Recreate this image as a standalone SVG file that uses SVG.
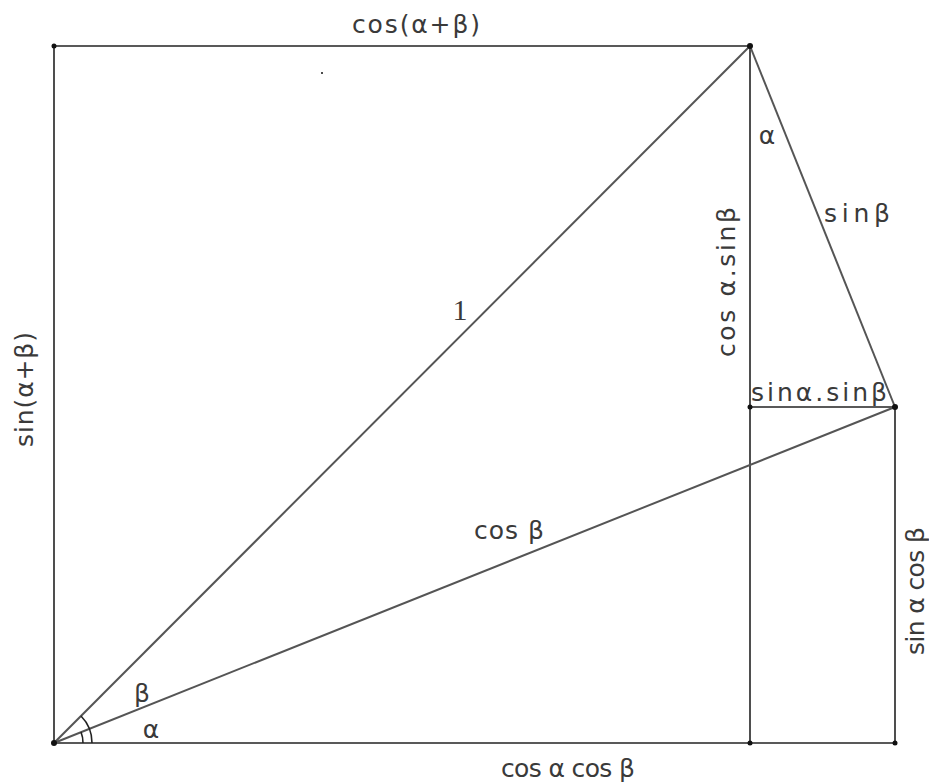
<svg xmlns="http://www.w3.org/2000/svg" width="929" height="784" viewBox="0 0 929 784">
<style>
.ln{stroke:#222;stroke-width:1.6;fill:none}
.dg{stroke:#555;stroke-width:2;fill:none}
.t{font-family:"DejaVu Sans","Liberation Sans",sans-serif;font-size:25px;fill:#3a3a3a}
.pt{fill:#111}
</style>
<rect width="929" height="784" fill="#fff"/>
<g id="connectors">
<line class="ln" x1="54" y1="46" x2="750" y2="46"/>
<line class="ln" x1="54" y1="46" x2="54" y2="743"/>
<line class="ln" x1="54" y1="743" x2="895" y2="743"/>
<line class="ln" x1="750" y1="46" x2="750" y2="743"/>
<line class="ln" x1="750" y1="407" x2="895" y2="407"/>
<line class="ln" x1="895" y1="407" x2="895" y2="743"/>
<line class="dg" x1="54" y1="743" x2="750" y2="46"/>
<line class="dg" x1="54" y1="743" x2="895" y2="407"/>
<line class="dg" x1="750" y1="46" x2="895" y2="407"/>
<path class="ln" d="M92,743 A38,38 0 0 0 81,716"/>
<path class="ln" d="M83,743 A29,29 0 0 0 81,732"/>
</g>
<g id="points">
<circle class="pt" cx="54" cy="46" r="2.5"/>
<circle class="pt" cx="750" cy="46" r="3"/>
<circle class="pt" cx="54" cy="743" r="3"/>
<circle class="pt" cx="750" cy="743" r="2.5"/>
<circle class="pt" cx="895" cy="743" r="2.5"/>
<circle class="pt" cx="750" cy="407" r="2.5"/>
<circle class="pt" cx="895" cy="407" r="3"/>
<circle class="pt" cx="322" cy="73" r="1"/>
</g>
<g id="labels">
<text class="t" x="352" y="33" textLength="128" lengthAdjust="spacing">cos(α+β)</text>
<text class="t" transform="translate(33,447) rotate(-90)" textLength="115" lengthAdjust="spacing">sin(α+β)</text>
<text class="t" x="460" y="320" text-anchor="middle" style="font-family:'Liberation Serif',serif;font-size:30px">1</text>
<text class="t" x="474" y="539" textLength="70" lengthAdjust="spacing">cos β</text>
<text class="t" x="142" y="702" text-anchor="middle">β</text>
<text class="t" x="151" y="738" text-anchor="middle">α</text>
<text class="t" x="767" y="144" text-anchor="middle">α</text>
<text class="t" x="824" y="222" textLength="66" lengthAdjust="spacing">sinβ</text>
<text class="t" transform="translate(735,357) rotate(-90)" textLength="150" lengthAdjust="spacing">cos α.sinβ</text>
<text class="t" x="751" y="401" textLength="136" lengthAdjust="spacing">sinα.sinβ</text>
<text class="t" transform="translate(924,655) rotate(-90)" textLength="128" lengthAdjust="spacing">sin α cos β</text>
<text class="t" x="501" y="777" textLength="134" lengthAdjust="spacing">cos α cos β</text>
</g>
</svg>
